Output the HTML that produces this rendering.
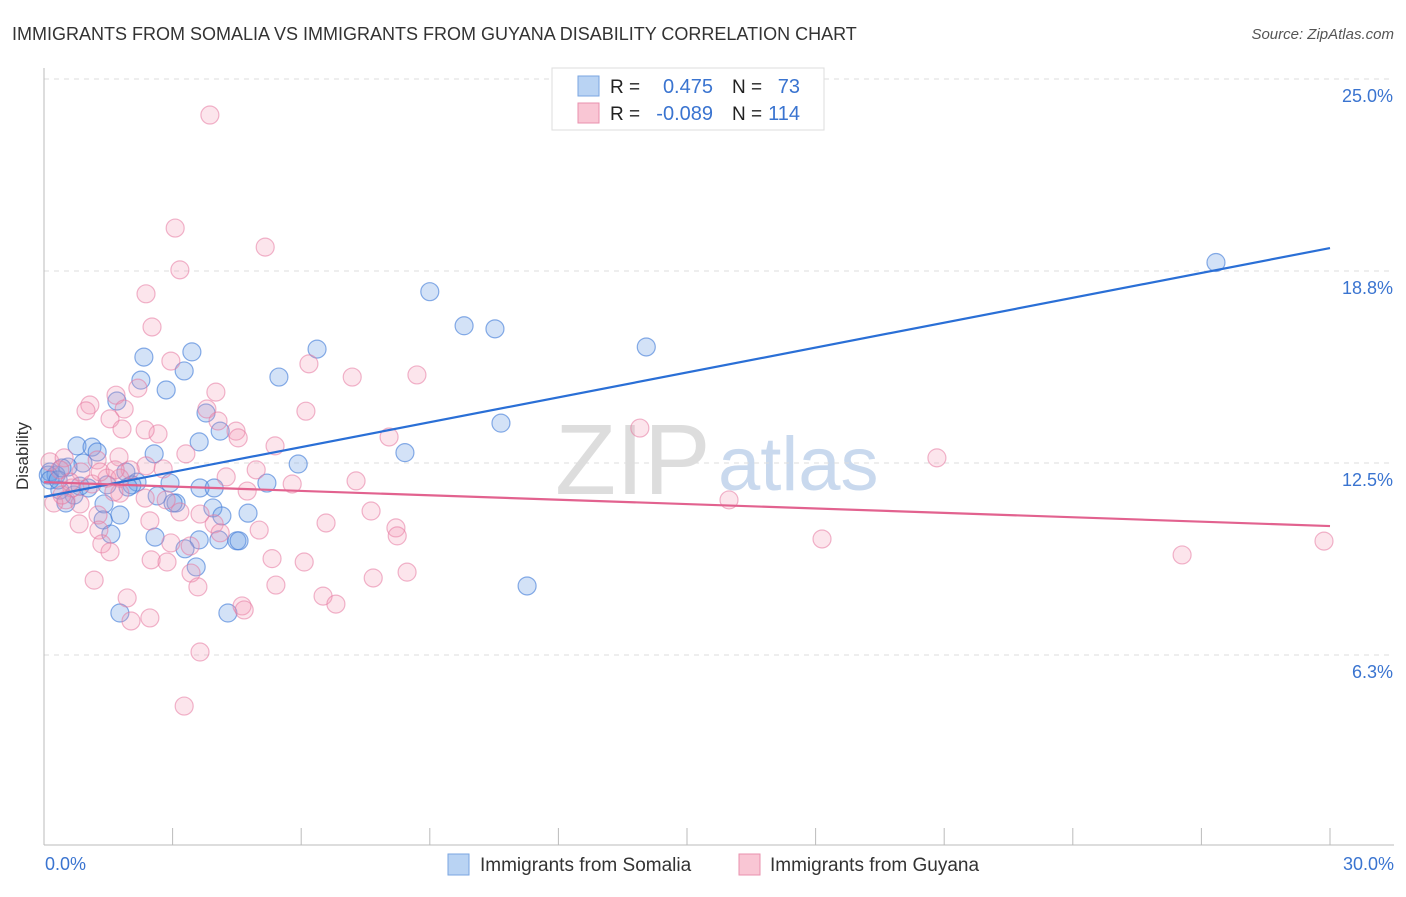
<!DOCTYPE html>
<html><head><meta charset="utf-8"><style>
body{margin:0;background:#fff;font-family:"Liberation Sans",sans-serif;}
svg text{font-family:"Liberation Sans",sans-serif;}
</style></head><body>
<svg id="chart" width="1406" height="892" viewBox="0 0 1406 892" xmlns="http://www.w3.org/2000/svg">
<text x="12" y="40" font-size="18" fill="#333">IMMIGRANTS FROM SOMALIA VS IMMIGRANTS FROM GUYANA DISABILITY CORRELATION CHART</text>
<text x="1394" y="39" font-size="15" fill="#555" font-style="italic" text-anchor="end">Source: ZipAtlas.com</text>
<g>
<text x="555" y="494" font-size="100" fill="#ddd" font-family="Liberation Serif">ZIP</text>
<text x="718" y="490" font-size="76" fill="#c9d9ee">atlas</text>
</g>
<g id="grid"></g>
<g id="axes"></g>
<g id="pts"></g>
<g id="trends"></g>
<text x="28" y="456" font-size="17" fill="#333" transform="rotate(-90 28 456)" text-anchor="middle">Disability</text>
<g>
<rect x="552" y="68" width="272" height="62" fill="#fff" stroke="#ddd"/>
<rect x="578" y="76" width="21" height="20" fill="#b9d3f3" stroke="#7aa6e0"/>
<rect x="578" y="103" width="21" height="20" fill="#f9c6d4" stroke="#e990ae"/>
<text x="610" y="93" font-size="19" fill="#222">R =</text><text x="713" y="93" font-size="20" fill="#3a74d0" text-anchor="end">0.475</text>
<text x="732" y="93" font-size="19" fill="#222">N =</text><text x="800" y="93" font-size="20" fill="#3a74d0" text-anchor="end">73</text>
<text x="610" y="120" font-size="19" fill="#222">R =</text><text x="713" y="120" font-size="20" fill="#3a74d0" text-anchor="end">-0.089</text>
<text x="732" y="120" font-size="19" fill="#222">N =</text><text x="800" y="120" font-size="20" fill="#3a74d0" text-anchor="end">114</text>
</g>
<g>
<rect x="448" y="854" width="21" height="21" fill="#b9d3f3" stroke="#7aa6e0"/>
<text x="480" y="871" font-size="19" fill="#333">Immigrants from Somalia</text>
<rect x="739" y="854" width="21" height="21" fill="#f9c6d4" stroke="#e990ae"/>
<text x="770" y="871" font-size="19" fill="#333">Immigrants from Guyana</text>
</g>
</svg>
<script>
const somaliaX=[27.34,9.0,9.8,10.52,14.05,6.37,3.45,2.33,3.27,5.48,2.26,2.85,1.70,3.78,4.11,10.66,8.42,3.62,0.77,1.12,1.24,2.57,5.93,0.91,0.56,1.91,0.14,0.28,5.2,2.17,2.05,2.94,1.47,3.64,3.97,1.03,0.37,0.7,2.64,0.51,3.08,3.01,3.94,1.4,4.76,1.77,4.15,1.38,1.56,2.59,4.08,3.62,4.5,4.55,3.29,3.55,11.27,4.29,1.77,0.1,0.14,0.33,0.42,0.84,1.96];
const somaliaY=[19.19,18.24,17.13,17.03,16.44,16.37,16.28,16.11,15.66,15.46,15.36,15.04,14.68,14.29,13.7,13.96,13.0,13.35,13.22,13.18,13.02,12.96,12.63,12.66,12.53,12.37,12.37,12.27,12.01,12.04,11.95,12.01,11.95,11.85,11.85,11.85,11.78,11.62,11.59,11.36,11.36,11.36,11.2,11.33,11.03,10.97,10.94,10.81,10.35,10.25,10.16,10.16,10.13,10.13,9.87,9.28,8.66,7.78,7.78,12.27,12.11,12.11,12.5,11.91,11.88];
const guyanaX=[3.87,3.06,5.16,3.17,2.38,2.52,2.96,6.18,7.19,8.7,2.19,4.01,1.68,1.07,6.11,1.87,3.8,0.98,1.54,4.06,1.82,13.9,4.48,8.05,2.66,4.53,5.39,20.83,1.24,0.14,0.47,1.75,2.38,3.31,0.37,4.25,4.95,2.78,0.86,7.28,1.47,5.79,4.74,1.77,15.98,2.36,0.51,0.23,0.84,7.63,1.26,8.21,6.58,0.82,5.02,1.28,1.35,3.97,4.11,8.24,18.15,3.41,2.96,1.54,5.32,2.5,6.07,26.55,29.86,2.87,8.47,7.68,1.17,3.43,5.41,3.59,1.94,6.51,6.81,4.62,4.67,2.47,2.03,3.64,3.27,1.63,1.12,0.65,0.42,0.61,1.31,2.01,2.47,3.17,1.77,2.85,2.36,1.66,3.64];
const guyanaY=[23.99,20.31,19.69,18.95,18.17,17.09,15.98,15.89,15.46,15.53,15.1,14.97,14.87,14.55,14.35,14.42,14.42,14.36,14.1,14.03,13.77,13.8,13.7,13.51,13.61,13.48,13.22,12.83,12.76,12.7,12.83,12.86,12.57,12.96,12.44,12.21,12.44,12.47,12.37,12.08,12.17,11.98,11.75,11.68,11.46,11.52,11.46,11.36,11.33,11.1,10.97,10.55,10.71,10.68,10.48,10.48,10.03,10.68,10.39,10.29,10.19,9.96,10.06,9.77,9.55,9.51,9.44,9.67,10.12,9.44,9.11,8.92,8.85,9.08,8.69,8.63,8.27,8.33,8.07,8.01,7.88,7.62,7.52,6.51,4.75,11.72,11.98,11.85,11.62,12.04,12.37,12.44,10.78,11.07,12.17,11.46,13.74,12.44,11.0];
const trendSomalia=[11.56,19.66];
const trendGuyana=[12.04,10.61];
const yTicks=[25.0,18.8,12.5,6.3];
const yTickVals=[25,18.75,12.5,6.25];
const xTickLabels=["0.0%","30.0%"];
const NS="http://www.w3.org/2000/svg";
const xs=v=>44+v*1286/30, ys=v=>852-v*30.72;
function mk(tag,attrs,parent){const e=document.createElementNS(NS,tag);for(const k in attrs)e.setAttribute(k,attrs[k]);parent.appendChild(e);return e;}
const grid=document.getElementById('grid'),axes=document.getElementById('axes'),pts=document.getElementById('pts'),tr=document.getElementById('trends');
yTickVals.forEach((v,i)=>{
 const y=ys(v)-5;
 const l=mk('line',{x1:44,x2:1394,y1:y,y2:y,stroke:'#ddd','stroke-dasharray':'5,5'},grid);
 
 
 const t=mk('text',{x:1393,y:y+23,'font-size':18,fill:'#3a74d0','text-anchor':'end'},grid);
 t.textContent=yTicks[i].toFixed(1)+'%';
 
 
});
mk('line',{x1:44,x2:44,y1:68,y2:845,stroke:'#bbb'},axes);
mk('line',{x1:44,x2:1394,y1:845,y2:845,stroke:'#bbb'},axes);
for(let i=0;i<=10;i++){const x=xs(i*3);const tk=mk('line',{x1:x,x2:x,y1:828,y2:845,stroke:'#bbb'},axes);
 
 }
[[0,'start',45],[30,'end',1394]].forEach((a,i)=>{const t=mk('text',{x:a[2],y:870,'font-size':18,fill:'#3a74d0','text-anchor':a[1]},axes);t.textContent=xTickLabels[i];
 
 });
somaliaX.forEach((x,i)=>{const c=mk('circle',{cx:xs(x),cy:ys(somaliaY[i]),r:9,fill:'rgba(110,160,230,0.3)',stroke:'rgba(60,120,215,0.6)','stroke-width':1.2},pts);
 
 });
guyanaX.forEach((x,i)=>{const c=mk('circle',{cx:xs(x),cy:ys(guyanaY[i]),r:9,fill:'rgba(245,150,180,0.25)',stroke:'rgba(230,120,160,0.55)','stroke-width':1.2},pts);
 
 });
const l1=mk('line',{x1:xs(0),y1:ys(trendSomalia[0]),x2:xs(30),y2:ys(trendSomalia[1]),stroke:'#2a6fd6','stroke-width':2.2},tr);


const l2=mk('line',{x1:xs(0),y1:ys(trendGuyana[0]),x2:xs(30),y2:ys(trendGuyana[1]),stroke:'#e2628f','stroke-width':2.2},tr);


</script>
</body></html>
